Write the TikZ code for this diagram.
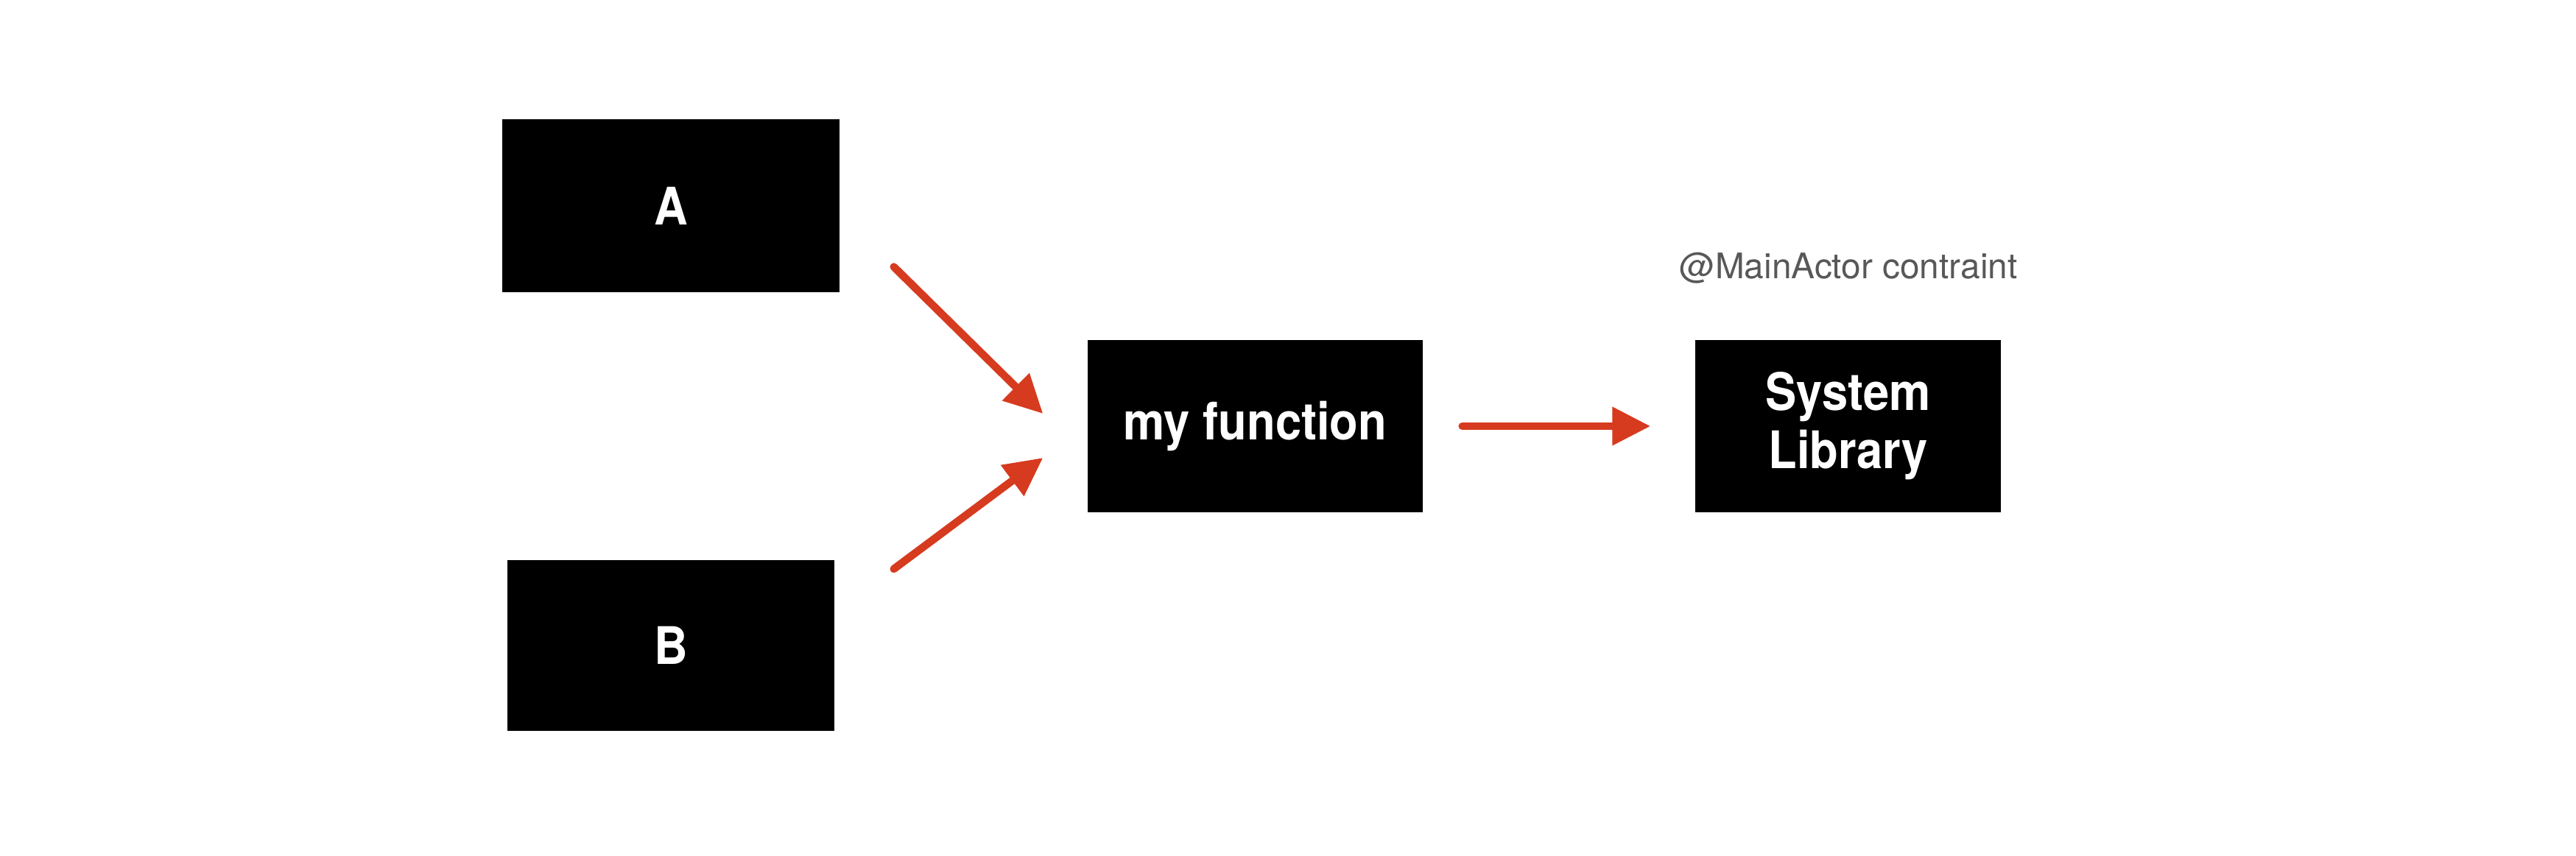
\documentclass[tikz,border=0pt]{standalone}
\usepackage{fontspec}
\setmainfont{TeX Gyre Heros}
\newfontfamily\boxfont{TeX Gyre Heros}[FakeStretch=0.9]
\usepackage{tikz}
\usetikzlibrary{arrows.meta, positioning, calc}
\definecolor{myred}{RGB}{214,59,31}
\definecolor{mygray}{RGB}{88,88,88}
\tikzset{
  blackbox/.style={rectangle, draw=none, fill=black, text=white,
    align=center, inner sep=0pt, font=\boxfont\fontsize{20}{22.5}\selectfont\bfseries},
  redarrow/.style={-{Triangle[length=0.52cm, width=0.5cm]}, line width=3pt,
    color=myred, line cap=round}
}
\begin{document}
\begin{tikzpicture}
  \useasboundingbox (0,0) rectangle (34.98,11.62);

  % Left Nodes
  \node[blackbox, minimum width=4.58cm, minimum height=2.35cm] (boxA) at (9.11, 8.825) {A};
  \node[blackbox, minimum width=4.44cm, minimum height=2.32cm] (boxB) at (9.11, 2.85) {B};

  % Middle Node
  \node[blackbox, minimum width=4.55cm, minimum height=2.34cm] (myfunc) at (17.045, 5.83) {my function};

  % Right Node
  \node[blackbox, minimum width=4.15cm, minimum height=2.34cm] (syslib) at (25.095, 5.83) {System\\Library};
  \node[font=\fontsize{13.6}{16}\selectfont, text=mygray] (actor) at (25.1, 7.98) {@MainActor contraint};

  % Paths
  \draw[redarrow] ($(boxA.east)+(0.73,-0.83)$) -- ($(myfunc.west)+(-0.6,0.17)$);
  \draw[redarrow] ($(boxB.east)+(0.8,1.04)$) -- ($(myfunc.west)+(-0.6,-0.43)$);
  \draw[redarrow] ($(myfunc.east)+(0.53,0)$) -- ($(syslib.west)+(-0.6,0)$);
\end{tikzpicture}
\end{document}
